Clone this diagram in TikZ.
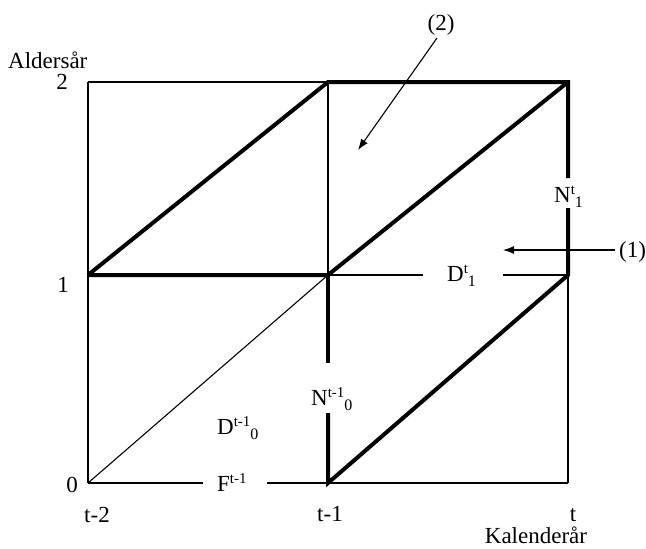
\documentclass[tikz,border=0pt]{standalone}
\usepackage{fontspec}
\setmainfont{Liberation Serif}
\usetikzlibrary{arrows.meta}
\newcommand\hsupsub[2]{\raisebox{0.75ex}{\fontsize{15}{15}\selectfont #1}\raisebox{-0.5ex}{\fontsize{16}{16}\selectfont #2}}
\newcommand\hsuponly[1]{\raisebox{0.75ex}{\fontsize{15}{15}\selectfont #1}}
\begin{document}
\begin{tikzpicture}[x=1pt,y=-1pt,
  thinline/.style={line width=1.1pt},
  boldline/.style={line width=4pt,line join=miter},
  lab/.style={inner sep=0pt,font=\fontsize{23}{25}\selectfont},
  pointer/.style={line width=1.1pt,-{Latex[length=11pt,width=8pt]}}]
\useasboundingbox (0,0) rectangle (646,549);
% grid points
\coordinate (a0) at (88,483);
\coordinate (b0) at (328,483);
\coordinate (c0) at (568,483);
\coordinate (a1) at (88,275);
\coordinate (b1) at (328,275);
\coordinate (c1) at (568,275);
\coordinate (a2) at (88,82);
\coordinate (b2) at (328,82);
\coordinate (c2) at (568,82);
% gap ends
\coordinate (g1) at (203,483);
\coordinate (g2) at (267,483);
\coordinate (g3) at (423,275);
\coordinate (g4) at (503,275);
\coordinate (g5) at (568,178);
\coordinate (g6) at (568,208);
\coordinate (g7) at (328,363);
\coordinate (g8) at (328,413);
% thin lines
\draw[thinline] (a2) -- (b2);
\draw[thinline] (a2) -- (a0);
\draw[thinline] (a0) -- (g1);
\draw[thinline] (g2) -- (c0);
\draw[thinline] (c0) -- (c1);
\draw[thinline] (b2) -- (b1);
\draw[thinline] (b1) -- (g3);
\draw[thinline] (g4) -- (c1);
\draw[thinline] (a0) -- (b1);
% thick lines
\draw[boldline] (a1) -- (b1) -- (c2);
\draw[boldline] (a1) -- (b2) -- (c2) -- (g5);
\draw[boldline] (g6) -- (c1) -- (b0) -- (g8);
\draw[boldline] (b1) -- (g7);
% labels
\node[lab,anchor=base west] (ylab) at (8,68) {Aldersår};
\node[lab,anchor=base] (y2) at (62,89) {2};
\node[lab,anchor=base] (y1) at (63,292) {1};
\node[lab,anchor=base] (y0) at (72,492) {0};
\node[lab,anchor=base] (x0) at (97,522) {t-2};
\node[lab,anchor=base] (x1) at (330,521) {t-1};
\node[lab,anchor=base] (x2) at (573,521) {t};
\node[lab,anchor=base] (xlab) at (536,543) {Kalenderår};
\node[lab,anchor=base] (m2) at (441,30) {(2)};
\node[lab,anchor=base west] (m1) at (619,257) {(1)};
\node[lab,anchor=base west] (dt1) at (447,281) {D\hsupsub{t}{1}};
\node[lab,anchor=base west] (ft) at (217,491) {F\hsuponly{t-1}};
\node[lab,anchor=base west] (dt0) at (217,434) {D\hsupsub{t-1}{0}};
\node[lab,anchor=base west] (nt0) at (311,405) {N\hsupsub{t-1}{0}};
\node[lab,anchor=base west] (nt1) at (554,202) {N\hsupsub{t}{1}};
% pointers
\coordinate (p2s) at (437,38);
\coordinate (p2e) at (358,150);
\coordinate (p1s) at (615,250);
\coordinate (p1e) at (503,250);
\draw[pointer] (p2s) -- (p2e);
\draw[pointer] (p1s) -- (p1e);
\end{tikzpicture}
\end{document}
